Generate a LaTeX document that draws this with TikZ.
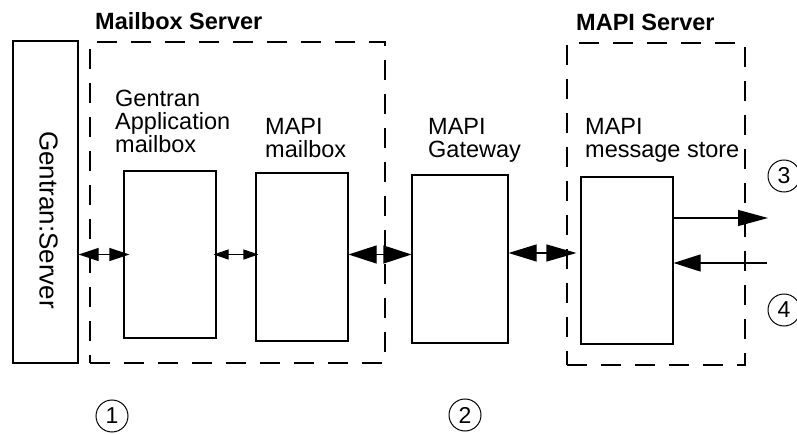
\documentclass[tikz,border=0pt]{standalone}
\usepackage{fontspec}
\setmainfont{Liberation Sans}
\usetikzlibrary{arrows.meta}
\begin{document}
\begin{tikzpicture}[x=1pt,y=-1pt,
  box/.style={draw,line width=1.2pt,inner sep=0pt},
  group/.style={draw,line width=1.2pt,dash pattern=on 20pt off 14pt,inner sep=0pt},
  lbl/.style={anchor=north west,inner sep=0pt,align=left,font=\fontsize{23.5}{23}\selectfont},
  grptitle/.style={anchor=base west,inner sep=0pt,font=\fontsize{23.5}{23}\selectfont\bfseries},
  num/.style={draw,circle,line width=1pt,minimum size=32pt,inner sep=0pt,font=\fontsize{23}{23}\selectfont},
  conn/.style={line width=1.2pt},
]
\useasboundingbox (0,0) rectangle (797,435);

% groups
\node[group,minimum width=295pt,minimum height=321pt] (mbs) at (237.5,202.5) {};
\node[group,minimum width=178pt,minimum height=322pt] (mps) at (656,204) {};
\node[grptitle] (mbst) at (95,30) {Mailbox Server};
\node[grptitle] (mpst) at (576,31) {MAPI Server};

% boxes
\node[box,minimum width=65pt,minimum height=322pt] (gs) at (45.5,202) {};
\node[rotate=-90,inner sep=0pt,font=\fontsize{26}{26}\selectfont] (gst) at (48.5,220) {Gentran:Server};
\node[box,minimum width=92pt,minimum height=167pt] (app) at (170,254.5) {};
\node[box,minimum width=92pt,minimum height=168pt] (mm) at (302,257) {};
\node[box,minimum width=96pt,minimum height=168pt] (gw) at (460,259) {};
\node[box,minimum width=92pt,minimum height=167pt] (st) at (627,260.5) {};

% labels
\node[lbl] (appl) at (115,90) {Gentran\\Application\\mailbox};
\node[lbl] (mml) at (265,118) {MAPI\\mailbox};
\node[lbl] (gwl) at (428,118) {MAPI\\Gateway};
\node[lbl] (stl) at (585,118) {MAPI\\message store};

% connectors
\draw[conn,{Triangle[length=20pt,width=13pt]}-{Triangle[length=20pt,width=13pt]},shorten >=-6pt]
  (gs.east |- app.west) -- (app.west);
\draw[conn,{Triangle[length=15pt,width=10pt]}-{Triangle[length=15pt,width=10pt]},shorten <=-3pt,shorten >=-3pt]
  (app.east) -- (mm.west |- app.east);
\draw[conn,{Triangle[length=28pt,width=18pt]}-{Triangle[length=28pt,width=18pt]}]
  (mm.east |- app.west) -- (gw.west |- app.west);
\coordinate (y4) at (0,253);
\draw[conn,{Triangle[length=28pt,width=17pt]}-{Triangle[length=30pt,width=17pt]},shorten >=4pt]
  (gw.east |- y4) -- (st.west |- y4);
\coordinate (o3) at (768,218);
\draw[conn,-{Triangle[length=30pt,width=16pt]}] (st.east |- o3) -- (o3);
\coordinate (i4) at (767,263);
\draw[conn,-{Triangle[length=27pt,width=17pt]}] (i4) -- (st.east |- i4);

% step numbers
\node[num] (n1) at (112,416) {1};
\node[num] (n2) at (465,415) {2};
\node[num] (n3) at (784,176) {3};
\node[num] (n4) at (784,310) {4};
\end{tikzpicture}
\end{document}
